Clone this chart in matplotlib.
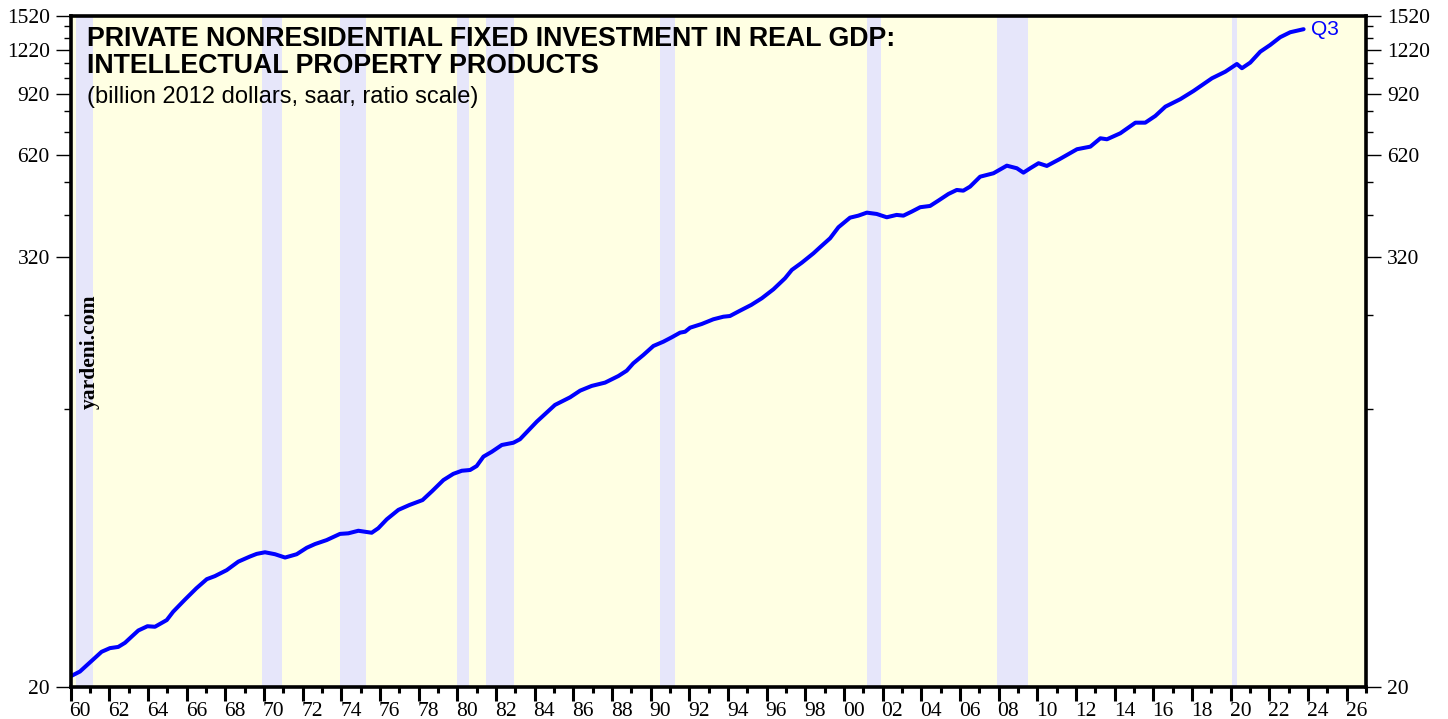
import matplotlib
matplotlib.use("Agg")
import matplotlib.pyplot as plt
from matplotlib.ticker import FixedLocator, NullFormatter
from matplotlib.transforms import ScaledTranslation

# values (billion 2012 dollars)
years = [
    1960.05, 1960.48, 1960.83, 1961.17, 1961.60, 1962.03, 1962.46, 1962.81,
    1963.16, 1963.50, 1963.97, 1964.36, 1964.97, 1965.30, 1965.90, 1966.50,
    1967.04, 1967.46, 1968.07, 1968.67, 1969.27, 1969.62, 1970.05, 1970.57,
    1971.09, 1971.69, 1972.21, 1972.64, 1973.24, 1973.93, 1974.36, 1974.88,
    1975.57, 1975.91, 1976.35, 1976.95, 1977.52, 1978.20, 1978.70, 1979.28,
    1979.79, 1980.23, 1980.66, 1981.00, 1981.35, 1981.78, 1982.30, 1982.90,
    1983.24, 1984.11, 1985.05, 1985.83, 1986.35, 1986.95, 1987.64, 1988.33,
    1988.76, 1989.10, 1989.62, 1990.14, 1990.66, 1991.09, 1991.52, 1991.78,
    1992.04, 1992.64, 1993.24, 1993.76, 1994.10, 1994.59, 1995.20, 1995.75,
    1996.35, 1996.95, 1997.30, 1997.82, 1998.42, 1998.76, 1999.28, 1999.71,
    2000.31, 2000.74, 2001.18, 2001.69, 2002.21, 2002.72, 2003.07, 2003.50,
    2003.94, 2004.45, 2004.88, 2005.40, 2005.83, 2006.17, 2006.52, 2007.04,
    2007.73, 2008.42, 2008.94, 2009.28, 2009.63, 2010.06, 2010.49, 2011.14,
    2012.05, 2012.74, 2013.26, 2013.60, 2014.29, 2015.07, 2015.58, 2016.10,
    2016.62, 2017.39, 2018.08, 2019.03, 2019.72, 2020.32, 2020.58, 2021.01,
    2021.53, 2022.04, 2022.56, 2023.08, 2023.77,
]
ipp = [
    21.5, 22.1, 23.0, 23.9, 25.1, 25.7, 25.9, 26.6,
    27.7, 28.8, 29.6, 29.5, 30.8, 32.5, 35.1, 37.8,
    40.1, 40.9, 42.5, 44.9, 46.4, 47.2, 47.7, 47.1,
    46.1, 47.1, 49.1, 50.3, 51.6, 53.7, 53.9, 54.8,
    54.1, 55.7, 59.0, 62.7, 64.7, 66.8, 70.8, 76.0,
    79.1, 80.7, 81.1, 83.2, 88.4, 91.2, 95.3, 96.7,
    98.9, 110.8, 123.4, 129.6, 135.3, 139.5, 142.5, 148.7,
    153.9, 161.4, 170.3, 180.5, 185.6, 190.9, 196.7, 197.9,
    203.1, 208.0, 214.4, 218.0, 219.0, 226.2, 235.2, 245.6,
    260.2, 279.4, 294.8, 309.0, 328.2, 341.2, 361.6, 388.2,
    413.0, 418.4, 426.6, 423.0, 414.0, 420.4, 418.4, 429.4,
    441.8, 445.4, 461.0, 481.2, 493.8, 491.6, 504.6, 538.0,
    550.0, 577.6, 568.0, 552.2, 568.0, 586.8, 576.6, 602.0,
    642.2, 653.0, 689.2, 684.8, 711.8, 762.2, 762.2, 796.0,
    845.2, 886.8, 935.4, 1015.0, 1059.0, 1113.0, 1083.0, 1123.0,
    1205.0, 1258.0, 1323.0, 1366.0, 1393.0,
]

# NBER recessions (start, end) in fractional years
rec_start = [1960.27, 1969.92, 1973.92, 1980.00, 1981.50, 1990.50, 2001.17, 2007.92, 2020.08]
rec_end = [1961.17, 1970.92, 1975.25, 1980.58, 1982.92, 1991.25, 2001.92, 2009.50, 2020.33]

y_major = [20, 320, 620, 920, 1220, 1520]
y_minor = [120, 220, 420, 520, 720, 820, 1020, 1120, 1320, 1420]
x_major = list(range(1960, 2027, 2))
x_minor = list(range(1961, 2028, 2))
x_labels = [f"{y % 100:02d}" for y in x_major]

SERIF = "Liberation Serif"
SANS = "Liberation Sans"

fig = plt.figure(figsize=(14.48, 7.19), dpi=100)
ax = fig.add_axes([0.0488, 0.0445, 0.8946, 0.9337])
ax.set_facecolor("#FFFFE3")

for a, b in zip(rec_start, rec_end):
    ax.axvspan(a, b, color="#E6E6FA", lw=0, zorder=1)

ax.plot(years, ipp, color="#0000FF", lw=2.9, solid_joinstyle="round",
        solid_capstyle="round", zorder=3)

ax.set_yscale("log")
ax.set_ylim(20, 1520)
ax.set_xlim(1960, 2027)

ax.yaxis.set_major_locator(FixedLocator(y_major))
ax.yaxis.set_minor_locator(FixedLocator(y_minor))
ax.set_yticklabels([str(v) for v in y_major])
ax.yaxis.set_minor_formatter(NullFormatter())
ax.tick_params(axis="y", which="major", direction="out", length=11, width=1,
               pad=4, labelsize=15.5, left=True, right=True,
               labelleft=True, labelright=True)
ax.tick_params(axis="y", which="minor", direction="out", length=5, width=1,
               left=True, right=True)

ax.set_xticks(x_major)
ax.set_xticks(x_minor, minor=True)
ax.set_xticklabels(x_labels)
ax.tick_params(axis="x", which="major", direction="out", length=10, width=2.2,
               pad=0.5, labelsize=15.5)
ax.tick_params(axis="x", which="minor", direction="out", length=4.5, width=2.2)

# shift year labels half a year to the right, between ticks
dx = ScaledTranslation(0.097, 0, fig.dpi_scale_trans)
for lab in ax.get_xticklabels() + ax.get_yticklabels():
    lab.set_fontfamily(SERIF)
for lab in ax.get_xticklabels():
    lab.set_transform(lab.get_transform() + dx)

for s in ax.spines.values():
    s.set_linewidth(2.6)
    s.set_color("black")
    s.set_zorder(5)

ax.text(0.0126, 0.984,
        "PRIVATE NONRESIDENTIAL FIXED INVESTMENT IN REAL GDP:\nINTELLECTUAL PROPERTY PRODUCTS",
        transform=ax.transAxes, ha="left", va="top", fontsize=19.3,
        fontweight="bold", family=SANS, linespacing=1.03, zorder=6)
ax.text(0.0126, 0.895, "(billion 2012 dollars, saar, ratio scale)",
        transform=ax.transAxes, ha="left", va="top", fontsize=17,
        family=SANS, zorder=6)

ax.text(0.0145, 0.5, "yardeni.com", transform=ax.transAxes, rotation=90,
        ha="center", va="center", fontsize=15.5, fontweight="bold",
        family=SERIF, zorder=6)

ax.annotate("Q3", xy=(years[-1], ipp[-1]), xytext=(5, 0),
            textcoords="offset points", ha="left", va="center",
            color="#0000FF", fontsize=15, family=SANS, zorder=6)

fig.savefig("out.png", dpi=100)
